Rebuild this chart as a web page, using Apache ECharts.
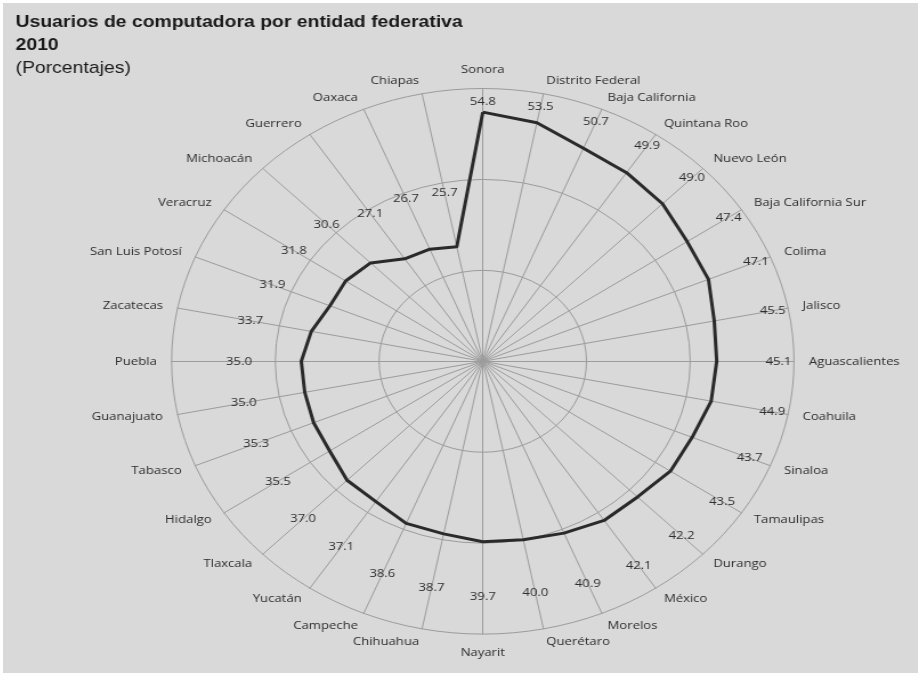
<!DOCTYPE html>
<html>
<head>
<meta charset="utf-8">
<script src="https://cdn.jsdelivr.net/npm/echarts@6/dist/echarts.min.js"></script>
<style>
  html, body { margin: 0; padding: 0; background: #ffffff; width: 918px; height: 673px; overflow: hidden; }
  #chart { position: absolute; left: 3px; top: 3px; width: 802px; height: 670px; transform: scaleX(1.1407); transform-origin: 0 0; }
</style>
</head>
<body>
<div id="chart"></div>
<script>
// Clockwise from the top (Sonora)
const states = ['Sonora', 'Distrito Federal', 'Baja California', 'Quintana Roo', 'Nuevo León',
  'Baja California Sur', 'Colima', 'Jalisco', 'Aguascalientes', 'Coahuila', 'Sinaloa',
  'Tamaulipas', 'Durango', 'México', 'Morelos', 'Querétaro', 'Nayarit', 'Chihuahua',
  'Campeche', 'Yucatán', 'Tlaxcala', 'Hidalgo', 'Tabasco', 'Guanajuato', 'Puebla',
  'Zacatecas', 'San Luis Potosí', 'Veracruz', 'Michoacán', 'Guerrero', 'Oaxaca', 'Chiapas'];
const percentages = [54.8, 53.5, 50.7, 49.9, 49.0, 47.4, 47.1, 45.5, 45.1, 44.9, 43.7,
  43.5, 42.2, 42.1, 40.9, 40.0, 39.7, 38.7, 38.6, 37.1, 37.0, 35.5, 35.3, 35.0, 35.0,
  33.7, 31.9, 31.8, 30.6, 27.1, 26.7, 25.7];
const axisMax = 60;
const titleText = 'Usuarios de computadora por entidad federativa\n2010';
const subtitleText = '(Porcentajes)';

// ECharts radar runs counter-clockwise; reverse (keeping first) to go clockwise
const order = [0].concat(states.map((_, i) => i).slice(1).reverse());
const names = order.map(i => states[i]);
const vals = order.map(i => percentages[i]);
// label anchor radius: a bit outside the point, kept inside the outer ring
const labelPos = vals.map(v => Math.min(v + 12, 57));

const chart = echarts.init(document.getElementById('chart'));
const txt = '#2e2e2e';
const gridCol = '#9c9c9c';
chart.setOption({
  backgroundColor: '#d9d9d9',
  animation: false,
  title: [
    { text: titleText, left: 6, top: 3,
      textStyle: { fontFamily: 'Liberation Sans', fontSize: 17, fontWeight: 'bold', color: '#1a1a1a', lineHeight: 23 } },
    { text: subtitleText, left: 6, top: 50,
      textStyle: { fontFamily: 'Liberation Sans', fontSize: 17, fontWeight: 'normal', color: '#1a1a1a', lineHeight: 20 } }
  ],
  radar: {
    center: [420.6, 358.3],
    radius: 272.8,
    startAngle: 90,
    shape: 'circle',
    splitNumber: 3,
    indicator: names.map(n => ({ name: n, min: 0, max: axisMax })),
    axisName: { color: txt, fontFamily: 'Open Sans', fontSize: 11.5 },
    nameGap: 13,
    axisLine: { lineStyle: { color: gridCol, width: 1 } },
    splitLine: { lineStyle: { color: gridCol, width: 1 } },
    splitArea: { show: false },
    axisTick: { show: false },
    axisLabel: { show: false }
  },
  series: [
    {
      type: 'radar', silent: true, symbol: 'none',
      lineStyle: { color: '#2a2a2a', width: 3 },
      data: [{ value: vals }]
    },
    {
      type: 'radar', silent: true, symbol: 'circle', symbolSize: 1,
      lineStyle: { width: 0, opacity: 0 },
      itemStyle: { color: 'rgba(0,0,0,0)', borderWidth: 0 },
      label: {
        show: true, position: 'inside', color: txt, fontFamily: 'Open Sans', fontSize: 11.5,
        formatter: p => {
          const i = p.dimensionIndex;
          return (i != null ? vals[i] : p.value).toFixed(1);
        }
      },
      data: [{ value: labelPos }]
    }
  ]
});
</script>
</body>
</html>
